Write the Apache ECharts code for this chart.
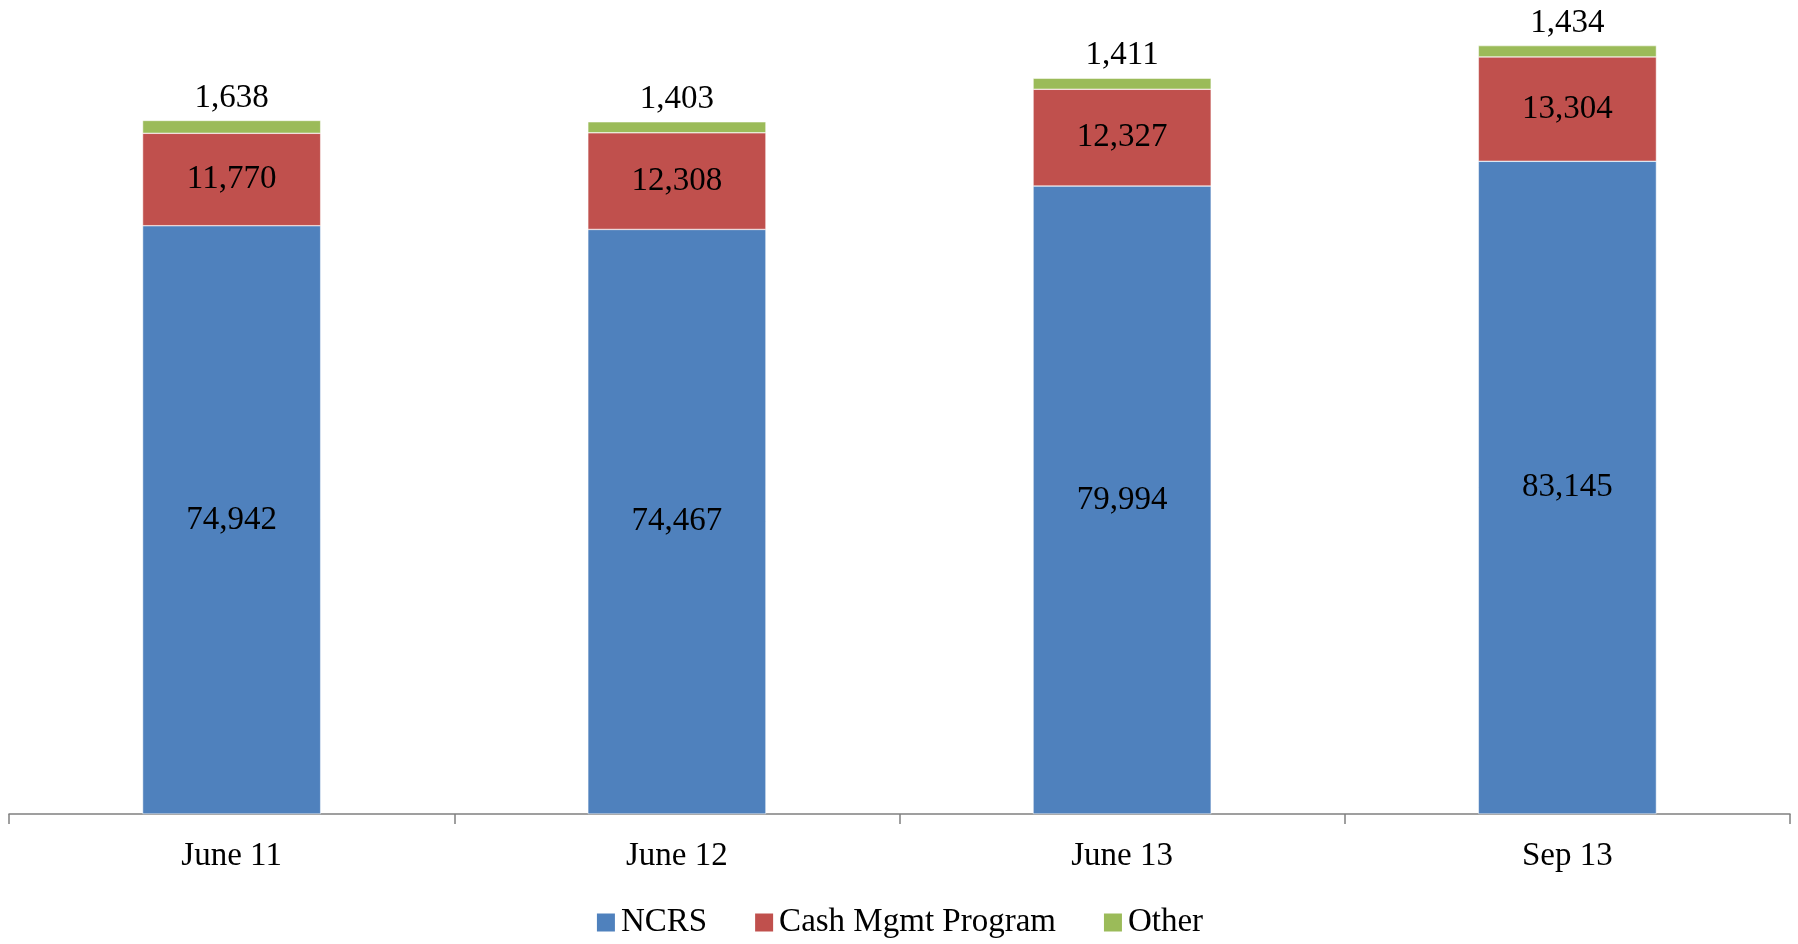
<!DOCTYPE html>
<html><head><meta charset="utf-8">
<script src="https://cdn.jsdelivr.net/npm/echarts@6/dist/echarts.min.js"></script>
<style>html,body{margin:0;padding:0;background:#fff}#c{width:1798px;height:944px}</style>
</head><body><div id="c"></div>
<script>
const categories = ['June 11', 'June 12', 'June 13', 'Sep 13'];
const ncrs = [74942, 74467, 79994, 83145];
const cashMgmt = [11770, 12308, 12327, 13304];
const other = [1638, 1403, 1411, 1434];

const FONT = '"Liberation Serif", "DejaVu Serif", serif';
const FS = 33;
const fmt = p => p.value.toLocaleString('en-US');
const chart = echarts.init(document.getElementById('c'));
chart.setOption({
  animation: false,
  textStyle: { fontFamily: FONT },
  grid: { left: 9, right: 8, top: 29, bottom: 130, containLabel: false },
  legend: {
    bottom: 0, itemWidth: 20, itemHeight: 20, itemGap: 46, icon: 'rect',
    textStyle: { fontFamily: FONT, fontSize: FS, color: '#000' },
    data: ['NCRS', 'Cash Mgmt Program', 'Other']
  },
  xAxis: {
    type: 'category', data: categories,
    axisLine: { lineStyle: { color: '#808080', width: 1.5 } },
    axisTick: { show: true, length: 10, alignWithLabel: false, lineStyle: { color: '#808080', width: 1.5 } },
    axisLabel: { fontFamily: FONT, fontSize: FS, color: '#000', margin: 26 }
  },
  yAxis: { type: 'value', min: 0, max: 100000, show: false, splitLine: { show: false } },
  series: [
    { name: 'NCRS', type: 'bar', stack: 't', data: ncrs, barWidth: '40%',
      itemStyle: { color: '#4F81BD', borderColor: '#ffffff', borderWidth: 0.5 },
      label: { show: true, position: 'inside', formatter: fmt, fontFamily: FONT, fontSize: FS, color: '#000' } },
    { name: 'Cash Mgmt Program', type: 'bar', stack: 't', data: cashMgmt,
      itemStyle: { color: '#C0504D', borderColor: '#ffffff', borderWidth: 0.5 },
      label: { show: true, position: 'inside', formatter: fmt, fontFamily: FONT, fontSize: FS, color: '#000' } },
    { name: 'Other', type: 'bar', stack: 't', data: other,
      itemStyle: { color: '#9BBB59', borderColor: '#ffffff', borderWidth: 0.5 },
      label: { show: true, position: 'top', distance: 6, formatter: fmt, fontFamily: FONT, fontSize: FS, color: '#000' } }
  ]
});
</script></body></html>
